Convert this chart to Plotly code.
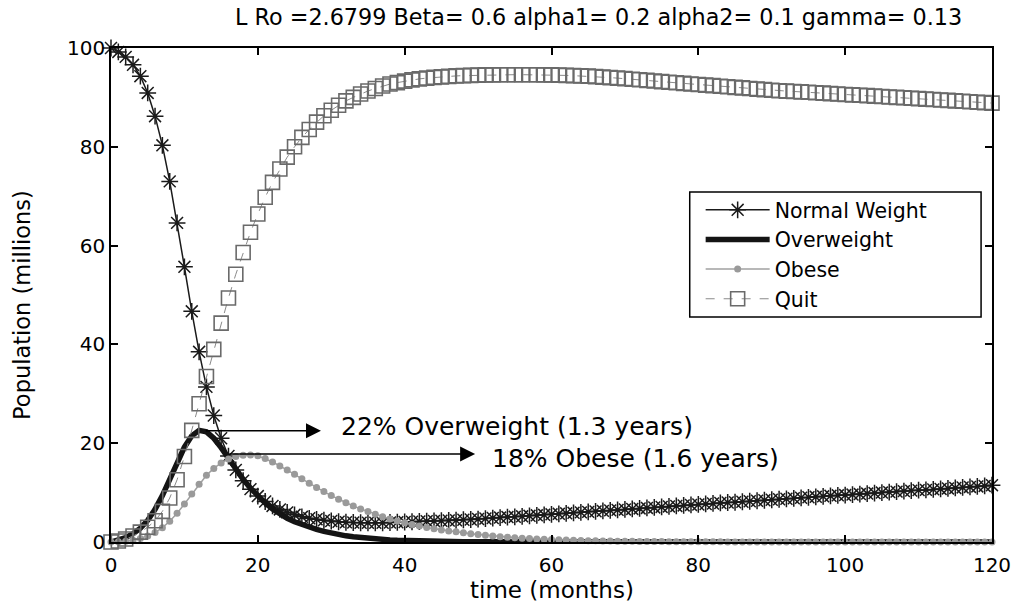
import plotly.graph_objects as go

# time axis (months) and population series (millions)
months = list(range(121))

normal_weight = [
    100.0, 99.2, 98.2, 96.6, 94.3, 90.9, 86.2, 80.3, 73.0, 64.6,
    55.7, 46.7, 38.5, 31.4, 25.6, 21.0, 17.4, 14.6, 12.4, 10.7,
    9.3, 8.2, 7.3, 6.6, 6.0, 5.5, 5.1, 4.8, 4.6, 4.4,
    4.25, 4.1, 4.0, 3.95, 3.9, 3.9, 3.9, 3.9, 3.95, 4.0,
    4.05, 4.1, 4.15, 4.2, 4.25, 4.3, 4.35, 4.4, 4.5, 4.55,
    4.65, 4.75, 4.85, 4.95, 5.05, 5.1, 5.2, 5.3, 5.4, 5.5,
    5.6, 5.7, 5.8, 5.9, 6.0, 6.1, 6.2, 6.3, 6.4, 6.5,
    6.6, 6.7, 6.8, 6.9, 7.0, 7.1, 7.2, 7.3, 7.4, 7.5,
    7.6, 7.7, 7.8, 7.9, 8.0, 8.05, 8.15, 8.25, 8.35, 8.45,
    8.55, 8.65, 8.75, 8.85, 8.95, 9.05, 9.15, 9.25, 9.35, 9.45,
    9.5, 9.6, 9.7, 9.8, 9.9, 10.0, 10.1, 10.2, 10.3, 10.4,
    10.5, 10.55, 10.65, 10.75, 10.85, 10.95, 11.05, 11.15, 11.25, 11.35,
    11.5,
]

overweight = [
    0.0, 0.4, 0.9, 1.7, 2.8, 4.4, 6.6, 9.4, 12.7, 16.1,
    19.2, 21.5, 22.6, 22.3, 21.0, 19.1, 16.9, 14.7, 12.7, 10.9,
    9.3, 7.9, 6.7, 5.7, 4.8, 4.1, 3.5, 3.0, 2.55, 2.15,
    1.8, 1.5, 1.25, 1.05, 0.88, 0.73, 0.61, 0.51, 0.42, 0.35,
    0.29, 0.24, 0.2, 0.17, 0.14, 0.12, 0.1, 0.08, 0.07, 0.06,
    0.05, 0.04, 0.03, 0.03, 0.02, 0.02, 0.01, 0.01, 0.01, 0.01,
    0.01, 0.0, 0.0, 0.0, 0.0, 0.0, 0.0, 0.0, 0.0, 0.0,
    0.0, 0.0, 0.0, 0.0, 0.0, 0.0, 0.0, 0.0, 0.0, 0.0,
    0.0, 0.0, 0.0, 0.0, 0.0, 0.0, 0.0, 0.0, 0.0, 0.0,
    0.0, 0.0, 0.0, 0.0, 0.0, 0.0, 0.0, 0.0, 0.0, 0.0,
    0.0, 0.0, 0.0, 0.0, 0.0, 0.0, 0.0, 0.0, 0.0, 0.0,
    0.0, 0.0, 0.0, 0.0, 0.0, 0.0, 0.0, 0.0, 0.0, 0.0,
    0.0,
]

obese = [
    0.0, 0.05, 0.15, 0.35, 0.7, 1.2, 1.9, 2.9, 4.2, 5.8,
    7.7, 9.7, 11.7, 13.5, 14.9, 16.0, 16.8, 17.3, 17.55, 17.6,
    17.45, 16.9, 16.2, 15.4, 14.6, 13.7, 12.8, 11.9, 11.05, 10.2,
    9.4, 8.65, 7.95, 7.3, 6.7, 6.15, 5.6, 5.1, 4.65, 4.25,
    3.9, 3.55, 3.25, 2.95, 2.7, 2.45, 2.25, 2.05, 1.85, 1.65,
    1.5, 1.35, 1.2, 1.08, 0.97, 0.87, 0.78, 0.7, 0.62, 0.55,
    0.49, 0.44, 0.39, 0.35, 0.31, 0.27, 0.24, 0.21, 0.19, 0.17,
    0.15, 0.13, 0.12, 0.1, 0.09, 0.08, 0.07, 0.06, 0.05, 0.05,
    0.04, 0.03, 0.03, 0.03, 0.02, 0.02, 0.02, 0.01, 0.01, 0.01,
    0.01, 0.0, 0.0, 0.0, 0.0, 0.0, 0.0, 0.0, 0.0, 0.0,
    0.0, 0.0, 0.0, 0.0, 0.0, 0.0, 0.0, 0.0, 0.0, 0.0,
    0.0, 0.0, 0.0, 0.0, 0.0, 0.0, 0.0, 0.0, 0.0, 0.0,
    0.0,
]

quit_ = [
    0.0, 0.2, 0.6, 1.2, 2.0, 3.0, 4.3, 6.2, 8.9, 12.6,
    17.3, 22.6, 28.0, 33.5, 39.0, 44.3, 49.4, 54.2, 58.6, 62.7,
    66.4, 69.8, 72.8, 75.5, 77.9, 80.0, 81.9, 83.5, 85.0, 86.3,
    87.4, 88.4, 89.3, 90.0, 90.7, 91.3, 91.8, 92.3, 92.7, 93.0,
    93.3, 93.55, 93.75, 93.9, 94.05, 94.15, 94.25, 94.35, 94.4, 94.45,
    94.5, 94.55, 94.55, 94.6, 94.6, 94.6, 94.6, 94.6, 94.6, 94.55,
    94.55, 94.5, 94.45, 94.4, 94.35, 94.3, 94.2, 94.1, 94.0, 93.9,
    93.8, 93.68, 93.56, 93.44, 93.32, 93.2, 93.08, 92.96, 92.84, 92.72,
    92.6, 92.49, 92.38, 92.26, 92.15, 92.03, 91.92, 91.8, 91.68, 91.57,
    91.45, 91.36, 91.28, 91.2, 91.11, 91.03, 90.94, 90.86, 90.77, 90.69,
    90.6, 90.52, 90.43, 90.35, 90.26, 90.18, 90.09, 90.01, 89.92, 89.84,
    89.75, 89.66, 89.57, 89.48, 89.39, 89.3, 89.21, 89.12, 89.03, 88.94,
    88.85,
]

x_ticks = [0, 20, 40, 60, 80, 100, 120]
y_ticks = [0, 20, 40, 60, 80, 100]

# peak call-outs: (text, arrow tail, arrow tip, label anchor)
callouts = [
    ("22% Overweight (1.3 years)", (12.7, 22.5), (28.6, 22.5), (31.1, 23.4)),
    ("18% Obese (1.6 years)", (15.9, 17.8), (49.6, 17.8), (51.6, 17.0)),
]

FONT = "DejaVu Sans"

fig = go.Figure()

fig.add_trace(go.Scatter(
    x=months, y=normal_weight, name="Normal Weight", mode="lines+markers",
    line=dict(color="#1a1a1a", width=1.5),
    marker=dict(symbol="asterisk-open", size=14, color="#1a1a1a",
                line=dict(color="#1a1a1a", width=1.5)),
    cliponaxis=False,
))
fig.add_trace(go.Scatter(
    x=months, y=overweight, name="Overweight", mode="lines",
    line=dict(color="#141414", width=5.5),
    cliponaxis=False,
))
fig.add_trace(go.Scatter(
    x=months, y=obese, name="Obese", mode="lines+markers",
    line=dict(color="#a0a0a0", width=1.5),
    marker=dict(symbol="circle", size=7, color="#9a9a9a"),
    cliponaxis=False,
))
fig.add_trace(go.Scatter(
    x=months, y=quit_, name="Quit", mode="lines+markers",
    line=dict(color="#8a8a8a", width=1, dash="dash"),
    marker=dict(symbol="square-open", size=14, color="#6a6a6a",
                line=dict(color="#6a6a6a", width=1.6)),
    cliponaxis=False,
))

annotations = []
for text, tail, tip, anchor in callouts:
    annotations.append(dict(
        x=tip[0], y=tip[1], ax=tail[0], ay=tail[1],
        xref="x", yref="y", axref="x", ayref="y",
        text="", showarrow=True, arrowhead=2, arrowsize=2.0,
        arrowwidth=1.5, arrowcolor="#000000", standoff=0, startstandoff=0,
    ))
    annotations.append(dict(
        x=anchor[0], y=anchor[1], xref="x", yref="y",
        text=text, showarrow=False, xanchor="left", yanchor="middle",
        font=dict(family=FONT, size=25, color="#000000"),
    ))

# title and axis titles
annotations += [
    dict(text="L Ro =2.6799 Beta= 0.6 alpha1= 0.2 alpha2= 0.1 gamma= 0.13",
         x=0.553, y=1.063, xref="paper", yref="paper", showarrow=False,
         xanchor="center", yanchor="middle",
         font=dict(family=FONT, size=22.3, color="#000000")),
    dict(text="time (months)", x=0.5, y=-0.097, xref="paper", yref="paper",
         showarrow=False, xanchor="center", yanchor="middle",
         font=dict(family=FONT, size=23, color="#000000")),
    dict(text="Population (millions)", x=-0.101, y=0.48, xref="paper",
         yref="paper", showarrow=False, textangle=-90,
         xanchor="center", yanchor="middle",
         font=dict(family=FONT, size=22.5, color="#000000")),
]

# legend frame
shapes = [dict(
    type="rect", xref="paper", yref="paper",
    x0=0.6569, x1=0.9876, y0=0.4555, y1=0.7085,
    line=dict(color="#000000", width=1.5), fillcolor="#ffffff", layer="above",
)]

axis_common = dict(
    showline=True, linecolor="#000000", linewidth=1.5, mirror="ticks",
    ticks="inside", ticklen=7, tickwidth=1.5, tickcolor="#000000",
    showgrid=False, zeroline=False,
    tickfont=dict(family=FONT, size=20, color="#000000"),
)

fig.update_layout(
    width=1023, height=611,
    margin=dict(l=111, r=26, t=48, b=69),
    paper_bgcolor="#ffffff", plot_bgcolor="#ffffff",
    xaxis=dict(range=[0, 120], tickvals=x_ticks, ticklabelstandoff=4,
               **axis_common),
    yaxis=dict(range=[0, 100], tickvals=y_ticks, **axis_common),
    legend=dict(
        x=0.6693, y=0.7126, xanchor="left", yanchor="top",
        bgcolor="rgba(0,0,0,0)", borderwidth=0,
        font=dict(family=FONT, size=20.5, color="#000000"),
        itemwidth=64, tracegroupgap=0,
    ),
    annotations=annotations,
    shapes=shapes,
    showlegend=True,
)

fig.write_html("out.html")
